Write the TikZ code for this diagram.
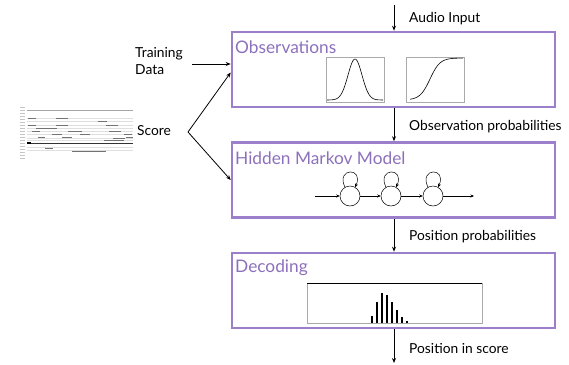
\documentclass[tikz,border=0pt]{standalone}
\usepackage{fontspec}
\setmainfont{Lato}
\usetikzlibrary{arrows.meta,calc}
\definecolor{boxpurple}{HTML}{9B7FCB}
\definecolor{titlepurple}{HTML}{8C70BC}
\definecolor{framegray}{HTML}{AAAAAA}
\begin{document}
\begin{tikzpicture}[x=1pt,y=-1pt,
  box/.style={draw=boxpurple,line width=2.6pt,minimum width=323pt,minimum height=75pt,inner sep=0pt},
  title/.style={text=titlepurple,font=\fontsize{17.3}{19}\selectfont,anchor=west,inner sep=0pt},
  lbl/.style={font=\fontsize{13.8}{17}\selectfont,anchor=west,inner sep=0pt},
  conn/.style={-{Stealth[length=5pt,width=4pt]},line width=0.8pt},
  thin/.style={-{Stealth[length=3.5pt,width=3pt]},line width=0.5pt},
  state/.style={circle,draw,line width=0.5pt,minimum size=20pt,inner sep=0pt},
  frame/.style={draw=framegray,line width=0.5pt}]
\useasboundingbox (0,0) rectangle (569,364);
% boxes
\node[box] (obs) at (393.5,69.5) {};
\node[box] (hmm) at (393.5,180) {};
\node[box] (dec) at (393.5,290.5) {};
\node[title] (tobs) at (235,47) {Observations};
\node[title] (thmm) at (235,158) {Hidden Markov Model};
\node[title] (tdec) at (235,268) {Decoding};
% vertical connectors
\coordinate (in) at (394,5);
\coordinate (out) at (394,363);
\draw[conn] (in) -- (obs.north -| in);
\draw[conn] (obs.south -| in) -- (hmm.north -| in);
\draw[conn] (hmm.south -| in) -- (dec.north -| in);
\draw[conn] (dec.south -| in) -- (out);
\node[lbl] (lin) at (409,19) {Audio Input};
\node[lbl] (lobs) at (409,127) {Observation probabilities};
\node[lbl] (lpos) at (409,237) {Position probabilities};
\node[lbl] (lsc) at (409,348) {Position in score};
% training data and score
\node[lbl,align=left] (train) at (135,61.5) {Training\\Data};
\node[lbl] (score) at (137,131) {Score};
\coordinate (tstart) at (192,64);
\coordinate (split) at (188,132);
\draw[conn] (tstart) -- (tstart -| obs.west);
\draw[conn] (split) -- ($(obs.west)+(0,3)$);
\draw[conn] (split) -- (hmm.west);
% score image
\foreach \yy in {107,110,113,116,119,122,125,128,131,134,137,140,143,146,149,152,155,158}
  \draw[gray!45,line width=0.6pt] (20,\yy) -- (25,\yy);
\foreach \yy in {118,121,125,128,131,134,138,140,147,150}
  \draw[gray!25,line width=0.4pt] (27,\yy) -- (133,\yy);
\draw[gray!70,line width=0.9pt] (27,110) -- (133,110);
\draw[black!80,line width=0.8pt] (27,143) -- (133,143);
\draw[black!55,line width=0.6pt]
  (28,118) -- (36,118) (56,118) -- (68,118)
  (28,125) -- (36,125) (56,125) -- (68,125) (98,121) -- (107,121) (106,125) -- (118,125)
  (36,128) -- (57,128)
  (32,131) -- (40,131) (68,131) -- (82,131) (109,131) -- (121,131)
  (52,134) -- (62,134) (80,134) -- (90,134) (124,134) -- (132,134)
  (38,137) -- (45,137) (62,137) -- (72,137) (113,138) -- (125,138) (126,137) -- (133,137)
  (104,140) -- (124,140)
  (45,148) -- (53,148) (72,151) -- (106,151);
\draw[black,line width=1.2pt] (27,143) -- (31,143);
% plots in observations
\draw[frame] (326,57) rectangle (384,102);
\draw[frame] (406,57) rectangle (464,102);
\draw[line width=0.6pt] plot[domain=-28:28,samples=70,smooth] ({355+\x},{100-41*exp(-(\x)^2/98)});
\draw[line width=0.6pt] plot[domain=410:463,samples=60,smooth] (\x,{100-42/(1+exp(-(\x-430)/5))});
% HMM states
\node[state] (s1) at (350,196) {};
\node[state] (s2) at (391,196) {};
\node[state] (s3) at (433,196) {};
\coordinate (hin) at (315,196);
\coordinate (hout) at (474,196);
\draw[thin] (hin) -- (s1);
\draw[thin] (s1) -- (s2);
\draw[thin] (s2) -- (s3);
\draw[thin] (s3) -- (hout);
\foreach \s in {s1,s2,s3}
  \draw[thin] (\s.120) to[out=115,in=65,looseness=5.5] (\s.60);
% decoding histogram
\draw[frame] (307,283) rectangle (482,323);
\draw[black,line width=0.6pt] (307,283) -- (482,283);
\foreach \bx/\by in {372/316,377/301.5,382/293,387/295,392/301.5,397/310,402/316.5,407/321}
  \draw[black,line width=1.4pt] (\bx,323) -- (\bx,\by);
\end{tikzpicture}
\end{document}
